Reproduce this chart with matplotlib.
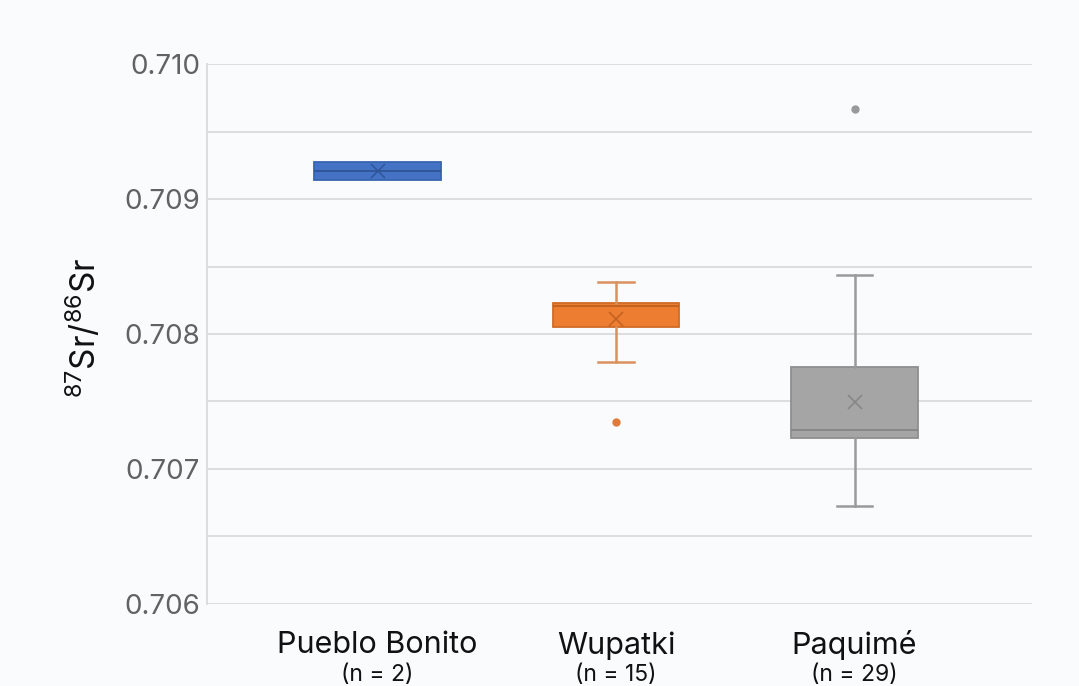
import matplotlib
matplotlib.use("Agg")
import matplotlib.pyplot as plt

# Strontium isotope ratios by site (box-and-whisker summary statistics)
sites = ["Pueblo Bonito", "Wupatki", "Paquimé"]
counts = [2, 15, 29]
q1 = [0.709142, 0.708049, 0.707226]
median = [0.709206, 0.708209, 0.707287]
q3 = [0.709277, 0.708227, 0.707757]
whisker_low = [0.709142, 0.707792, 0.706726]
whisker_high = [0.709277, 0.708385, 0.708437]
means = [0.709208, 0.708110, 0.707497]
outliers = [[], [0.707344], [0.709668]]

y_ticks = [0.706, 0.707, 0.708, 0.709, 0.710]
y_grid = [0.7065, 0.7075, 0.7085, 0.7095]

fill_colors = ["#4472C4", "#ED7D31", "#A5A5A5"]
edge_colors = ["#3A64B0", "#D06B27", "#8F8F8F"]
whisker_colors = ["#3A64B0", "#D9915E", "#9A9A9A"]
median_colors = ["#2F5597", "#C0611F", "#858585"]
flier_colors = ["#4472C4", "#E07B39", "#9A9A9A"]

bg = "#F9FBFD"
plt.rcParams["font.family"] = ["Inter", "DejaVu Sans"]
plt.rcParams["mathtext.fontset"] = "custom"
plt.rcParams["mathtext.rm"] = "Inter"
plt.rcParams["mathtext.it"] = "Inter"

fig = plt.figure(figsize=(10.79, 6.86), dpi=100, facecolor=bg)
ax = fig.add_axes([207 / 1079, 1 - 603.5 / 686, (1032 - 207) / 1079, (603.5 - 64.3) / 686])
ax.set_facecolor(bg)

positions = [1, 2, 3]
for i in range(len(sites)):
    stats = [{
        "med": median[i], "q1": q1[i], "q3": q3[i],
        "whislo": whisker_low[i], "whishi": whisker_high[i],
        "mean": means[i], "fliers": outliers[i],
    }]
    has_whiskers = whisker_low[i] < q1[i] or whisker_high[i] > q3[i]
    ax.bxp(
        stats, positions=[positions[i]], widths=0.53, patch_artist=True,
        showmeans=True, showfliers=True, showcaps=has_whiskers,
        boxprops=dict(facecolor=fill_colors[i], edgecolor=edge_colors[i], linewidth=1.3),
        whiskerprops=dict(color=whisker_colors[i], linewidth=1.8),
        capprops=dict(color=whisker_colors[i], linewidth=1.8),
        capwidths=0.15,
        medianprops=dict(color=median_colors[i], linewidth=1.3),
        meanprops=dict(marker="x", markeredgecolor=median_colors[i], markersize=9.5,
                       markeredgewidth=1.1),
        flierprops=dict(marker="o", markerfacecolor=flier_colors[i],
                        markeredgecolor="none", markersize=6),
        zorder=3,
    )

ax.set_xlim(0.285, 3.744)
ax.set_ylim(0.706, 0.710)
ax.set_yticks(y_ticks)
ax.set_yticklabels([f"{v:.3f}" for v in y_ticks])
for v in y_ticks + y_grid:
    ax.axhline(v, color="#DCDDDF", linewidth=1.4, zorder=1)

for s in ["top", "right", "bottom"]:
    ax.spines[s].set_visible(False)
ax.spines["left"].set_color("#DCDDDF")
ax.spines["left"].set_linewidth(1.4)
ax.tick_params(axis="y", length=0, pad=5, labelsize=20, labelcolor="#626262")

ax.set_xticks(positions)
ax.set_xticklabels([])
ax.tick_params(axis="x", length=0)
trans = ax.get_xaxis_transform()
for i, name in enumerate(sites):
    ax.text(positions[i], -0.0776, name, transform=trans, ha="center", va="center",
            fontsize=22, color="#111111")
    ax.text(positions[i], -0.132, f"(n = {counts[i]})", transform=trans, ha="center",
            va="center", fontsize=16.5, color="#111111")

ax.set_ylabel(r"$^{87}\mathrm{Sr/}^{86}\mathrm{Sr}$", fontsize=24, color="#111111")
ax.yaxis.set_label_coords(-0.126, 0.512)

fig.savefig("out.png", dpi=100, facecolor=bg)
